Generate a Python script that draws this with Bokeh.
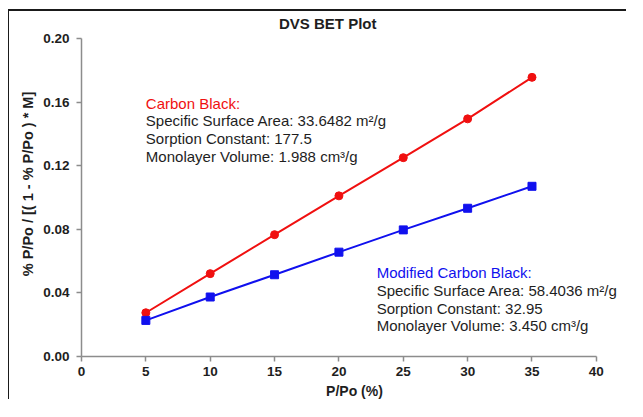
from bokeh.plotting import figure
from bokeh.models import Label, FixedTicker, NumeralTickFormatter, Range1d
from bokeh.embed import file_html
from bokeh.resources import INLINE

# ---- data ----
p_po = [5, 10, 15, 20, 25, 30, 35]
carbon_black = [0.0275, 0.0521, 0.0766, 0.1010, 0.1250, 0.1494, 0.1755]
modified_cb = [0.0227, 0.0374, 0.0514, 0.0656, 0.0796, 0.0932, 0.1070]
x_ticks = [0, 5, 10, 15, 20, 25, 30, 35, 40]
y_ticks = [0.0, 0.04, 0.08, 0.12, 0.16, 0.20]

title_text = "DVS BET Plot"
x_label = "P/Po (%)"
y_label = "% P/Po / [( 1 - % P/Po ) * M]"
cb_lines = ["Carbon Black:",
            "Specific Surface Area: 33.6482 m\u00b2/g",
            "Sorption Constant: 177.5",
            "Monolayer Volume: 1.988 cm\u00b3/g"]
mcb_lines = ["Modified Carbon Black:",
             "Specific Surface Area: 58.4036 m\u00b2/g",
             "Sorption Constant: 32.95",
             "Monolayer Volume: 3.450 cm\u00b3/g"]

RED = "#f01010"
BLUE = "#1010ee"
TXT = "#1e1e1e"
FONT = "Liberation Sans"

p = figure(width=618, height=390, output_backend="svg", toolbar_location=None,
           x_range=Range1d(0, 42.42), y_range=Range1d(0, 0.2169),
           min_border_left=72, min_border_right=0, min_border_top=0,
           min_border_bottom=43)
p.styles = {"border-top": "2px solid #1a1a1a", "border-left": "1px solid #1a1a1a",
            "margin-left": "8px", "margin-top": "9px"}
p.outline_line_color = None
p.xgrid.visible = False
p.ygrid.visible = False

p.line(p_po, carbon_black, line_color=RED, line_width=2)
p.scatter(p_po, carbon_black, marker="circle", size=8, color=RED)
p.line(p_po, modified_cb, line_color=BLUE, line_width=2)
p.scatter(p_po, modified_cb, marker="square", size=8, color=BLUE)

for ax in (p.xaxis[0], p.yaxis[0]):
    ax.axis_line_color = "#8c8c8c"
    ax.axis_line_width = 1.5
    ax.major_tick_line_color = "#8c8c8c"
    ax.major_tick_line_width = 1.5
    ax.major_tick_out = 5
    ax.major_tick_in = 0
    ax.minor_tick_line_color = None
    ax.major_label_text_font = FONT
    ax.major_label_text_font_style = "bold"
    ax.major_label_text_font_size = "13.5px"
    ax.major_label_text_color = TXT
    ax.axis_label_text_font = FONT
    ax.axis_label_text_font_style = "bold"
    ax.axis_label_text_color = TXT

p.xaxis.bounds = (0, 40)
p.yaxis.bounds = (0, 0.2)
p.xaxis.ticker = FixedTicker(ticks=x_ticks)
p.yaxis.ticker = FixedTicker(ticks=y_ticks)
p.yaxis.formatter = NumeralTickFormatter(format="0.00")
p.xaxis.axis_label = x_label
p.yaxis.axis_label = y_label
p.xaxis.axis_label_text_font_size = "14px"
p.yaxis.axis_label_text_font_size = "14.5px"
p.xaxis.major_label_standoff = 5
p.yaxis.major_label_standoff = 7
p.xaxis.axis_label_standoff = 4
p.yaxis.axis_label_standoff = 4

p.add_layout(Label(x=19.13, y=0.2093, text=title_text, text_align="center",
                   text_baseline="middle", text_font=FONT, text_font_style="bold",
                   text_font_size="15px", text_color=TXT))

cb_y = [0.1593, 0.1481, 0.1371, 0.1260]
mcb_y = [0.05255, 0.04156, 0.03015, 0.01952]
for i, (t, yy) in enumerate(zip(cb_lines, cb_y)):
    p.add_layout(Label(x=5.0, y=yy, text=t, text_baseline="middle", text_font=FONT,
                       text_font_size="15px", text_color=RED if i == 0 else TXT))
for i, (t, yy) in enumerate(zip(mcb_lines, mcb_y)):
    p.add_layout(Label(x=22.93, y=yy, text=t, text_baseline="middle", text_font=FONT,
                       text_font_size="15px", text_color=BLUE if i == 0 else TXT))

open("out.html", "w").write(file_html(p, INLINE))
